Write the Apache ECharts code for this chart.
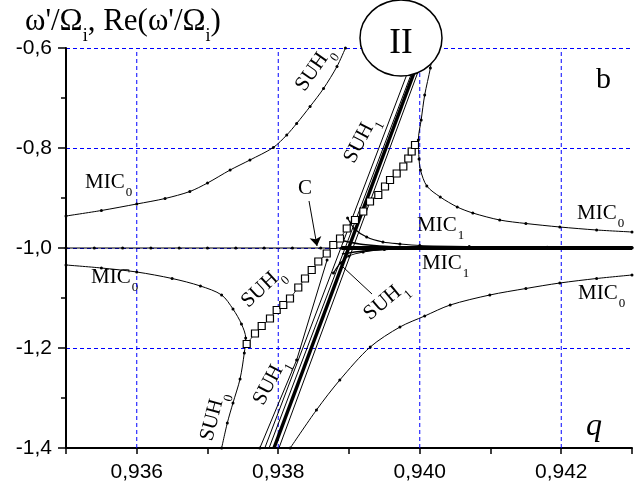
<!DOCTYPE html>
<html><head><meta charset="utf-8">
<script src="https://cdn.jsdelivr.net/npm/echarts@6/dist/echarts.min.js"></script>
<style>html,body{margin:0;padding:0;background:#fff}#c{width:643px;height:484px}</style>
</head><body><div id="c"></div>
<script>
// ---- axis ticks ----
const xMin = 0.935, xMax = 0.943, xStep = 0.001;
const xGridTicks = [0.936, 0.938, 0.940, 0.942];
const yMin = -1.4, yMax = -0.6, yStep = 0.2;

// ---- curves (q, omega) ----
const mic0UpperLeft = [[0.935,-0.936],[0.9355,-0.925],[0.936,-0.912],[0.9364,-0.901],[0.93675,-0.887],[0.937,-0.87],[0.93732,-0.844],[0.9376,-0.824],[0.93793,-0.799],[0.93812,-0.774],[0.93826,-0.751],[0.93845,-0.717],[0.93864,-0.681],[0.93883,-0.637],[0.93895,-0.6]];
const mic0LowerLeft = [[0.935,-1.034],[0.9355,-1.04],[0.936,-1.048],[0.9365,-1.061],[0.9369,-1.076],[0.9372,-1.094],[0.93736,-1.122],[0.93748,-1.152],[0.93754,-1.18],[0.93752,-1.21],[0.93746,-1.262],[0.93736,-1.31],[0.93728,-1.35],[0.9372,-1.4]];
const mic0LowerRight = [[0.93817,-1.4],[0.93854,-1.324],[0.93887,-1.264],[0.9393,-1.198],[0.93972,-1.158],[0.94007,-1.136],[0.94043,-1.114],[0.94099,-1.094],[0.9415,-1.081],[0.94198,-1.07],[0.9425,-1.061],[0.943,-1.054]];
const mic0UpperRight = [[0.94019,-0.6],[0.94015,-0.64],[0.94007,-0.694],[0.94002,-0.744],[0.93998,-0.784],[0.93999,-0.822],[0.94001,-0.844],[0.9401,-0.876],[0.94029,-0.898],[0.94053,-0.918],[0.94075,-0.93],[0.94113,-0.944],[0.9415,-0.951],[0.94198,-0.958],[0.9425,-0.964],[0.943,-0.968]];
const flatLeft = [[0.935,-1],[0.9354,-1],[0.9358,-1],[0.9362,-1],[0.9366,-1],[0.937,-1],[0.9374,-1],[0.9378,-1],[0.9382,-1],[0.9386,-1],[0.9389,-1]];
const flatRight = [[0.9389,-1],[0.9392,-1],[0.9395,-1],[0.9398,-1],[0.9401,-1],[0.9404,-1],[0.9408,-1],[0.9412,-1],[0.9416,-1],[0.942,-1],[0.9425,-1],[0.943,-1]];
const mic1Upper = [[0.93898,-0.94],[0.93908,-0.962],[0.93925,-0.978],[0.93948,-0.988],[0.93972,-0.992],[0.94,-0.995],[0.9407,-0.997],[0.9418,-0.9985],[0.943,-0.999]];
const mic1Lower = [[0.93878,-1.05],[0.93888,-1.03],[0.939,-1.016],[0.9392,-1.008],[0.9395,-1.003],[0.94,-1.001],[0.941,-1.0]];
const fanUpper = [[0.9389,-0.985],[0.9392,-0.993],[0.9397,-0.998],[0.9405,-1]];
const fanLower = [[0.9389,-1.012],[0.9392,-1.006],[0.9397,-1.002],[0.9405,-1]];
const suhThinLower = [[0.93774,-1.4],[0.93826,-1.224],[0.93869,-1.024]];
const suhBundleA = [[0.93781,-1.4],[0.93996,-0.6]];
const suhBundleB = [[0.93787,-1.4],[0.94002,-0.6]];
const suhBundleThick = [[0.93794,-1.4],[0.94005,-0.6]];
const suhBundleC = [[0.93801,-1.4],[0.9401,-0.6]];
const squares = [[0.937554,-1.192],[0.937671,-1.171],[0.937766,-1.156],[0.937883,-1.141],[0.937978,-1.124],[0.938071,-1.114],[0.938166,-1.101],[0.938283,-1.079],[0.938378,-1.061],[0.938473,-1.044],[0.938566,-1.027],[0.938685,-1.011],[0.938778,-0.994],[0.938873,-0.981],[0.938968,-0.961],[0.939085,-0.944],[0.939202,-0.927],[0.939297,-0.907],[0.939414,-0.894],[0.939509,-0.877],[0.93958,-0.864],[0.939674,-0.851],[0.939768,-0.837],[0.939838,-0.821],[0.939886,-0.807],[0.939933,-0.794]];

// ---- annotations (data coordinates) ----
const arrowC = [[0.938435,-0.906],[0.938548,-0.996]];
const pointerSUH1 = [[0.938915,-1.038],[0.939325,-1.092]];
// [q, omega, main, sub, fontSize, rotationDeg, align]
const labels = [
  [0.935269,-0.868,'MIC','0',21,0,'left'],
  [0.935353,-1.058,'MIC','0',21,0,'left'],
  [0.942223,-0.930,'MIC','0',21,0,'left'],
  [0.942237,-1.090,'MIC','0',21,0,'left'],
  [0.939961,-0.954,'MIC','1',21,0,'left'],
  [0.940032,-1.030,'MIC','1',21,0,'left'],
  [0.938279,-0.880,'C','',21,0,'left'],
  [0.938477,-0.648,'SUH','0',21,55,'center'],
  [0.939141,-0.790,'SUH','1',21,62,'center'],
  [0.937740,-1.084,'SUH','0',21,43,'center'],
  [0.937860,-1.274,'SUH','1',21,62,'center'],
  [0.937064,-1.344,'SUH','0',21,75,'center'],
  [0.939474,-1.110,'SUH','1',21,40,'center']
];
const circleII = [0.939735,-0.58];
const textII = [0.939735,-0.591];
const textB = [0.942491,-0.664];
const textQ = [0.94235,-1.357];

const SERIF = '"Liberation Serif","Times New Roman",serif';
const SANS = '"Liberation Sans",Arial,sans-serif';

function line(data, width, dots, smooth) {
  return {type:'line', data, smooth: smooth ? 0.3 : false, symbol:'circle', symbolSize: dots ? 3 : 0,
    showSymbol: !!dots, showAllSymbol: true, lineStyle:{color:'#000', width}, itemStyle:{color:'#000'},
    animation:false, silent:true, z:3};
}

const chart = echarts.init(document.getElementById('c'), null, {renderer:'canvas'});
const gridSeries = xGridTicks.map(v => ({type:'line', data:[[v, yMin],[v, yMax]], symbol:'none', silent:true, animation:false, z:1,
  lineStyle:{color:'#0000ff', type:[4,3], width:1}}));
const series = gridSeries.concat([
  line(flatLeft, 1.2, true, false),
  line(flatRight, 4, true, false),
  line(mic0UpperLeft, 1, true, true),
  line(mic0LowerLeft, 1, true, true),
  line(mic0LowerRight, 1, true, true),
  line(mic0UpperRight, 1, true, true),
  line(mic1Upper, 1.2, true, true),
  line(mic1Lower, 1.2, true, true),
  line(fanUpper, 1.5, false, true),
  line(fanLower, 1.5, false, true),
  line(suhThinLower, 1, true, false),
  line(suhBundleA, 1, false, false),
  line(suhBundleB, 1, false, false),
  line(suhBundleThick, 3.5, false, false),
  line(suhBundleC, 1, false, false),
  {type:'line', data:squares, symbol:'rect', symbolSize:7, showSymbol:true, showAllSymbol:true,
   lineStyle:{color:'#000', width:0.8}, itemStyle:{color:'#fff', borderColor:'#000', borderWidth:1.2},
   animation:false, silent:true, z:4},
  {type:'lines', coordinateSystem:'cartesian2d', data:[{coords: arrowC}], symbol:['none','arrow'], symbolSize:9,
   lineStyle:{color:'#000', width:1, opacity:1}, animation:false, silent:true, z:5},
  line(pointerSUH1, 1, false, false)
]);

chart.setOption({
  animation:false,
  grid:{left:66, right:11, top:48, bottom:36},
  xAxis:{type:'value', min:xMin, max:xMax, interval:xStep,
    axisLine:{show:true, onZero:false, lineStyle:{color:'#000', width:2}},
    axisTick:{show:true, length:6, lineStyle:{color:'#000', width:1.5}},
    splitLine:{show:false},
    axisLabel:{color:'#000', fontFamily:SANS, fontSize:21, margin:14,
      formatter: v => { const k = Math.round(v*1000); return k % 2 === 0 ? (k/1000).toFixed(3).replace('.', ',') : ''; }}},
  yAxis:{type:'value', min:yMin, max:yMax, interval:yStep,
    axisLine:{show:true, onZero:false, lineStyle:{color:'#000', width:2}},
    axisTick:{show:true, length:8, lineStyle:{color:'#000', width:1.5}},
    minorTick:{show:true, splitNumber:2, length:5, lineStyle:{color:'#000', width:1.5}},
    splitLine:{show:true, lineStyle:{color:'#0000ff', type:[4,3], width:1}},
    axisLabel:{color:'#000', fontFamily:SANS, fontSize:21, margin:14,
      formatter: v => v.toFixed(1).replace('.', ',')}},
  series
});

const ctx = document.createElement('canvas').getContext('2d');
function tw(text, size, italic) { ctx.font = (italic ? 'italic ' : '') + size + 'px ' + SERIF; return ctx.measureText(text).width; }
function font(size, italic) { return (italic ? 'italic ' : '') + size + 'px ' + SERIF; }
const toPx = p => chart.convertToPixel({gridIndex:0}, p);

const graphics = [];
labels.forEach(([q, w, main, sub, size, rot, align]) => {
  const [px, py] = toPx([q, w]);
  const mw = tw(main, size);
  const subSize = Math.round(size * 0.62);
  const children = [{type:'text', x:0, y:0, style:{text:main, font:font(size), fill:'#000', textAlign:align, textVerticalAlign:'middle'}}];
  if (sub) children.push({type:'text', x:(align === 'center' ? mw/2 : mw) + 1, y:size*0.5,
    style:{text:sub, font:font(subSize), fill:'#000', textAlign:'left', textVerticalAlign:'middle'}});
  graphics.push({type:'group', x:px, y:py, rotation:rot*Math.PI/180, z:100, children});
});
// circle with II
const [cx, cy] = toPx(circleII);
graphics.push({type:'ellipse', shape:{cx, cy, rx:41, ry:38}, style:{fill:'#fff', stroke:'#000', lineWidth:1.5}, z:100});
const [iix, iiy] = toPx(textII);
graphics.push({type:'text', x:iix, y:iiy, z:101, style:{text:'II', font:font(35), fill:'#000', textAlign:'center', textVerticalAlign:'middle'}});
const [bx, by] = toPx(textB);
graphics.push({type:'text', x:bx, y:by, z:101, style:{text:'b', font:font(30), fill:'#000', textAlign:'left', textVerticalAlign:'middle'}});
const [qx, qy] = toPx(textQ);
graphics.push({type:'text', x:qx, y:qy, z:101, style:{text:'q', font:font(32, true), fill:'#000', textAlign:'left', textVerticalAlign:'middle'}});
// axis title
const titleParts = [["ω'/Ω", false], ['i', true], [", Re(ω'/Ω", false], ['i', true], [')', false]];
let tx = 25;
const tSize = 31, tSub = 18;
titleParts.forEach(([t, isSub]) => {
  const s = isSub ? tSub : tSize;
  graphics.push({type:'text', x:tx, y: isSub ? 22 + 14 : 22, z:101,
    style:{text:t, font:font(s), fill:'#000', textAlign:'left', textVerticalAlign:'middle'}});
  tx += tw(t, s);
});
chart.setOption({graphic: graphics});
</script>
</body></html>
